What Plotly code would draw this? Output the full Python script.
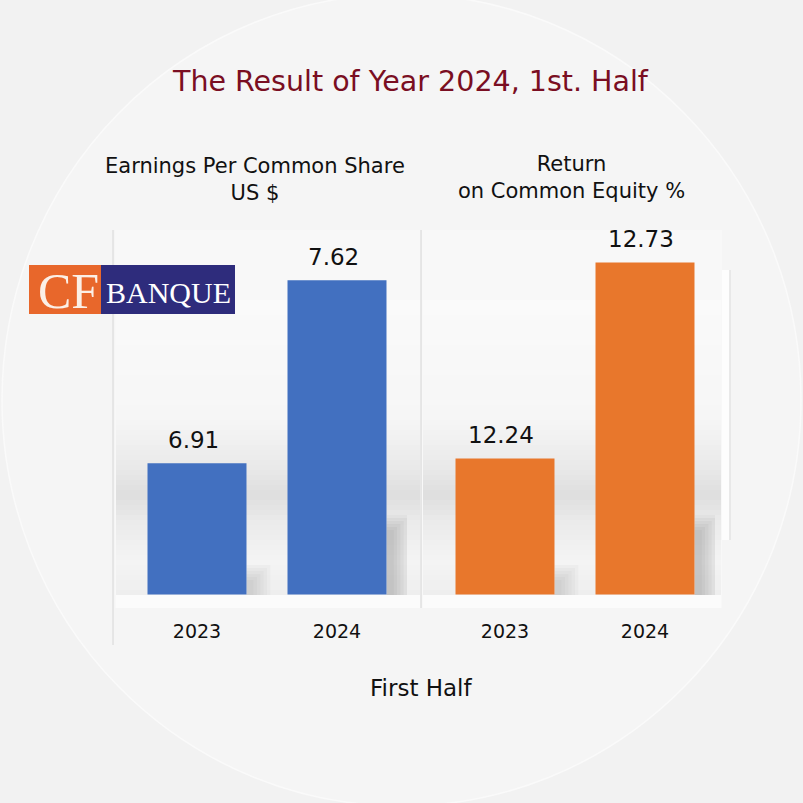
import plotly.graph_objects as go

# ---- data ----
years = ["2023", "2024"]
eps_values = [6.91, 7.62]
roe_values = [12.24, 12.73]
eps_labels = ["6.91", "7.62"]
roe_labels = ["12.24", "12.73"]

title_text = "The Result of Year 2024, 1st. Half"
eps_title = "Earnings Per Common Share<br>US $"
roe_title = "Return<br>on Common Equity %"
x_title = "First Half"

W = H = 803
FONT = "DejaVu Sans"
BAR_W = 0.707


def px(x):
    return x / W


def py(y):
    return 1 - y / H


fig = go.Figure()

blue = "#4270C0"
orange = "#E8772C"

fig.add_trace(go.Bar(x=years, y=eps_values, xaxis="x", yaxis="y",
                     marker=dict(color=blue, line=dict(width=0)), width=BAR_W,
                     hoverinfo="x+y"))
fig.add_trace(go.Bar(x=years, y=roe_values, xaxis="x2", yaxis="y2",
                     marker=dict(color=orange, line=dict(width=0)), width=BAR_W,
                     hoverinfo="x+y"))

shapes = []
# circular backdrop
shapes.append(dict(type="circle", xref="paper", yref="paper", layer="below",
                   x0=px(2), x1=px(801), y0=py(-6), y1=py(806),
                   fillcolor="#f5f5f5", line=dict(color="#fafafa", width=1.5)))

# panels (light backgrounds)
for x0, x1 in [(115, 421), (422, 722)]:
    shapes.append(dict(type="rect", xref="paper", yref="paper", layer="below",
                       x0=px(x0), x1=px(x1), y0=py(608), y1=py(230),
                       fillcolor="#f8f8f8", line=dict(width=0)))

# soft grey shading band behind the bars (decorative gradient)
def grey_at(y):
    pts = [(300, 250), (420, 246), (470, 232), (495, 222), (520, 234), (560, 244), (580, 241), (595, 238)]
    for (ya, ga), (yb, gb) in zip(pts[:-1], pts[1:]):
        if ya <= y <= yb:
            t = (y - ya) / (yb - ya)
            return int(round(ga + t * (gb - ga)))
    return 248

step = 5
for x0, x1 in [(116, 420), (423, 721)]:
    for y in range(300, 595, step):
        g = grey_at(y + step / 2)
        shapes.append(dict(type="rect", xref="paper", yref="paper", layer="below",
                           x0=px(x0), x1=px(x1), y0=py(y + step), y1=py(y),
                           fillcolor=f"rgb({g},{g},{g})", line=dict(width=0)))
    shapes.append(dict(type="rect", xref="paper", yref="paper", layer="below",
                       x0=px(x0), x1=px(x1), y0=py(608), y1=py(595),
                       fillcolor="#fbfbfb", line=dict(width=0)))

# soft drop shadows to the right of the bars
for xa in ["x", "x2"]:
    for i, top_px, op in [(0, 565, 0.045), (1, 515, 0.06)]:
        for k in range(6):
            frac = 1.0 - k * 0.14
            shapes.append(dict(type="rect", xref=xa, yref="paper", layer="below",
                               x0=i + BAR_W / 2, x1=i + BAR_W / 2 + 0.17 * frac,
                               y0=py(595), y1=py(top_px + k * 3),
                               fillcolor="rgba(110,110,110,%.3f)" % op, line=dict(width=0)))

# separator lines
shapes.append(dict(type="line", xref="paper", yref="paper", layer="below",
                   x0=px(113), x1=px(113), y0=py(645), y1=py(230),
                   line=dict(color="#d6d6d6", width=1)))
shapes.append(dict(type="line", xref="paper", yref="paper", layer="below",
                   x0=px(421), x1=px(421), y0=py(608), y1=py(230),
                   line=dict(color="#d6d6d6", width=1)))
shapes.append(dict(type="line", xref="paper", yref="paper", layer="below",
                   x0=px(730), x1=px(730), y0=py(540), y1=py(270),
                   line=dict(color="#dcdcdc", width=1)))
shapes.append(dict(type="rect", xref="paper", yref="paper", layer="below",
                   x0=px(722), x1=px(729), y0=py(540), y1=py(270),
                   fillcolor="#fdfdfd", line=dict(width=0)))

# logo
shapes.append(dict(type="rect", xref="paper", yref="paper", layer="above",
                   x0=px(29), x1=px(101), y0=py(314), y1=py(265),
                   fillcolor="#E8672B", line=dict(width=0)))
shapes.append(dict(type="rect", xref="paper", yref="paper", layer="above",
                   x0=px(101), x1=px(235), y0=py(314), y1=py(265),
                   fillcolor="#2E2C7C", line=dict(width=0)))

annotations = []
annotations.append(dict(text=title_text, xref="paper", yref="paper", x=px(410), y=py(82),
                        showarrow=False, xanchor="center", yanchor="middle",
                        font=dict(family=FONT, size=28.5, color="#7A0E22")))
annotations.append(dict(text=eps_title, xref="paper", yref="paper", x=px(255), y=py(179),
                        showarrow=False, xanchor="center", yanchor="middle", align="center",
                        font=dict(family=FONT, size=21, color="#111111")))
annotations.append(dict(text=roe_title, xref="paper", yref="paper", x=px(571), y=py(177),
                        showarrow=False, xanchor="center", yanchor="middle", align="center",
                        font=dict(family=FONT, size=21, color="#111111")))
annotations.append(dict(text=x_title, xref="paper", yref="paper", x=px(421), y=py(688),
                        showarrow=False, xanchor="center", yanchor="middle",
                        font=dict(family=FONT, size=23, color="#111111")))
# value labels (category index positions on the bar axes)
for xa, ya, vals, labs in [("x", "y", eps_values, eps_labels), ("x2", "y2", roe_values, roe_labels)]:
    for i, (v, lab) in enumerate(zip(vals, labs)):
        annotations.append(dict(text=lab, xref=xa, yref=ya, x=i, y=v, showarrow=False,
                                xanchor="center", yanchor="bottom", yshift=8, xshift=-4,
                                font=dict(family=FONT, size=23, color="#111111")))
# logo text
annotations.append(dict(text="CF", xref="paper", yref="paper", x=px(68), y=py(291),
                        showarrow=False, xanchor="center", yanchor="middle",
                        font=dict(family="Liberation Serif", size=50, color="#FBEFE6")))
annotations.append(dict(text="BANQUE", xref="paper", yref="paper", x=px(168), y=py(292),
                        showarrow=False, xanchor="center", yanchor="middle",
                        font=dict(family="Liberation Serif", size=30, color="#FFFFFF")))

fig.update_layout(
    width=W, height=H,
    margin=dict(l=0, r=0, t=0, b=0, autoexpand=False),
    paper_bgcolor="#f2f2f2",
    plot_bgcolor="rgba(0,0,0,0)",
    showlegend=False,
    shapes=shapes,
    annotations=annotations,
    xaxis=dict(type="category", domain=[px(127), px(407)], anchor="y", range=[-0.5, 1.5],
               showgrid=False, zeroline=False, automargin=False,
               showline=False, ticks="", ticklabelstandoff=23,
               tickfont=dict(family=FONT, size=19, color="#111111")),
    yaxis=dict(domain=[py(594.5), py(230)], anchor="x", range=[6.40, 7.815],
               visible=False, showgrid=False, zeroline=False, automargin=False),
    xaxis2=dict(type="category", domain=[px(435), px(715)], anchor="y2", range=[-0.5, 1.5],
                showgrid=False, zeroline=False, automargin=False,
                showline=False, ticks="", ticklabelstandoff=23,
                tickfont=dict(family=FONT, size=19, color="#111111")),
    yaxis2=dict(domain=[py(594.5), py(230)], anchor="x2", range=[11.90, 12.811],
                visible=False, showgrid=False, zeroline=False, automargin=False),
)

fig.write_html("out.html")
